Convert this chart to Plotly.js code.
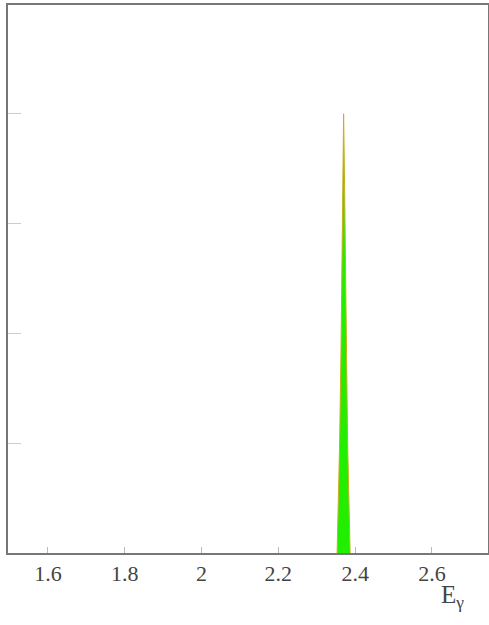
<!DOCTYPE html>
<html>
<head>
<meta charset="utf-8">
<script src="https://cdn.plot.ly/plotly-3.0.1.min.js"></script>
<style>html,body{margin:0;padding:0;background:#fff;}#chart{width:489px;height:625px;}</style>
</head>
<body>
<div id="chart"></div>
<script>
// Photon energy E_gamma and peak height
const energy = [2.353, 2.355, 2.3596, 2.363, 2.366, 2.368, 2.370, 2.372, 2.374, 2.377, 2.3804, 2.385, 2.387];
const counts = [0, 0.3, 1.0, 1.8, 2.8, 3.5, 4.0, 3.5, 2.8, 1.8, 1.0, 0.3, 0];
const xTicks = [1.6, 1.8, 2, 2.2, 2.4, 2.6];
const xTickLabels = ['1.6', '1.8', '2', '2.2', '2.4', '2.6'];
const yTicks = [1, 2, 3, 4];

const serif = "'Liberation Serif', 'DejaVu Serif', serif";

const trace = {
  x: energy, y: counts, type: 'scatter', mode: 'lines',
  fill: 'tozeroy', fillcolor: '#22ee00',
  line: {color: '#c8b020', width: 1},
  hoverinfo: 'none'
};

const layout = {
  width: 489, height: 625,
  margin: {l: 8, r: 1, t: 5, b: 72},
  paper_bgcolor: '#fff', plot_bgcolor: '#fff',
  showlegend: false,
  xaxis: {
    range: [1.496, 2.746], tickvals: xTicks, ticktext: xTickLabels,
    ticks: 'inside', ticklen: 6, tickcolor: '#bbb', tickwidth: 1,
    showgrid: false, zeroline: false,
    showline: true, linecolor: '#777', linewidth: 2, mirror: true,
    tickfont: {family: serif, size: 22, color: '#444'}
  },
  yaxis: {
    range: [0, 4.99], tickvals: yTicks, showticklabels: false,
    ticks: 'inside', ticklen: 13, tickcolor: '#ccc', tickwidth: 1,
    showgrid: false, zeroline: false,
    showline: true, linecolor: '#777', linewidth: 2, mirror: true
  },
  annotations: [{
    text: 'E<sub>γ</sub>', xref: 'paper', yref: 'paper',
    x: 0.925, y: -0.08, xanchor: 'center', yanchor: 'middle', showarrow: false,
    font: {family: serif, size: 25, color: '#444'}
  }]
};

Plotly.newPlot('chart', [trace], layout, {displayModeBar: false, staticPlot: true});
</script>
</body>
</html>
